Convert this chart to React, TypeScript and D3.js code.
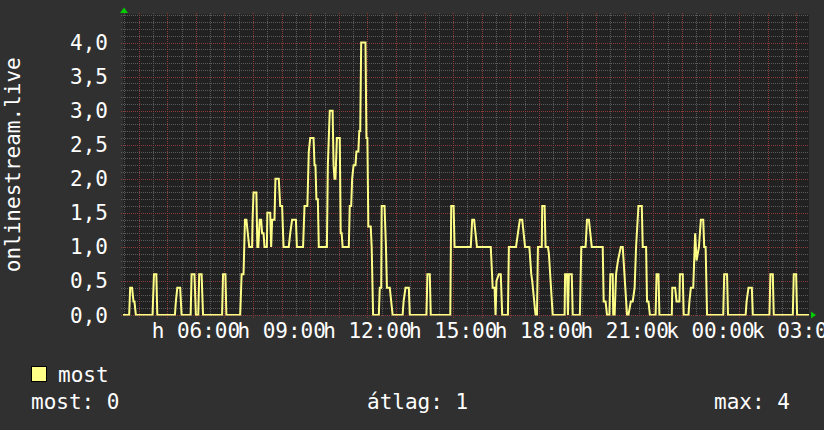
import React from 'react';
import * as d3 from 'd3';

// 24h window, Monday 03:27 -> Tuesday 03:27
const windowStart = new Date(2024, 0, 1, 3, 27);
const windowEnd = new Date(2024, 0, 2, 3, 27);

const sampleTimes: string[] = [
  '03:27', '03:40', '03:42', '03:46', '03:49', '03:51', '03:54', '04:29', '04:32', '04:37',
  '04:39', '05:16', '05:18', '05:21', '05:27', '05:30', '05:49', '05:51', '05:57', '06:00',
  '06:05', '06:07', '06:12', '06:15', '06:55', '06:57', '07:02', '07:04', '07:33', '07:36',
  '07:40', '07:43', '07:46', '07:49', '07:52', '07:58', '07:59', '08:01', '08:07', '08:09',
  '08:11', '08:14', '08:17', '08:19', '08:22', '08:24', '08:29', '08:30', '08:36', '08:38',
  '08:40', '08:45', '08:47', '08:54', '08:57', '09:01', '09:04', '09:15', '09:18', '09:22',
  '09:30', '09:32', '09:45', '09:48', '09:54', '09:57', '10:00', '10:07', '10:09', '10:11',
  '10:13', '10:16', '10:18', '10:35', '10:37', '10:41', '10:47', '10:49', '10:51', '10:53',
  '10:56', '11:02', '11:04', '11:06', '11:08', '11:21', '11:23', '11:26', '11:28', '11:31',
  '11:35', '11:37', '11:41', '11:43', '11:45', '11:47', '11:56', '11:58', '12:00', '12:02',
  '12:07', '12:09', '12:12', '12:24', '12:26', '12:29', '12:30', '12:36', '12:39', '12:41',
  '12:47', '12:50', '12:53', '13:14', '13:16', '13:20', '13:27', '13:29', '14:04', '14:06',
  '14:11', '14:13', '14:54', '14:56', '15:01', '15:03', '15:37', '15:40', '15:44', '15:47',
  '15:50', '16:19', '16:23', '16:27', '16:29', '16:31', '16:36', '16:40', '16:43', '16:55',
  '16:57', '17:12', '17:16', '17:20', '17:25', '17:28', '17:31', '17:40', '17:44', '17:46',
  '17:53', '17:56', '17:58', '18:06', '18:07', '18:12', '18:14', '18:19', '18:21', '18:29',
  '18:54', '18:55', '18:59', '19:01', '19:03', '19:09', '19:11', '19:26', '19:29', '19:38',
  '19:41', '19:45', '19:48', '19:51', '20:14', '20:16', '20:20', '20:23', '20:28', '20:30',
  '20:35', '20:36', '20:39', '20:42', '20:46', '20:52', '20:56', '21:05', '21:08', '21:13',
  '21:17', '21:21', '21:24', '21:29', '21:36', '21:38', '21:45', '21:47', '21:50', '21:53',
  '22:05', '22:07', '22:11', '22:13', '22:39', '22:40', '22:46', '22:49', '22:55', '22:56',
  '23:02', '23:04', '23:14', '23:16', '23:19', '23:24', '23:28', '23:31', '23:36', '23:40',
  '23:45', '23:47', '23:50', '23:53', '00:27', '00:29', '00:35', '00:37', '01:14', '01:16',
  '01:20', '01:27', '01:29', '02:04', '02:06', '02:11', '02:13', '02:53', '02:55', '03:00',
  '03:02', '03:27',
];

const sampleValues: number[] = [
  0, 0, 0.4, 0.4, 0.2, 0.2, 0, 0, 0.6, 0.6,
  0, 0, 0.2, 0.4, 0.4, 0, 0, 0.6, 0.6, 0,
  0, 0.6, 0.6, 0, 0, 0.6, 0.6, 0, 0, 0.6,
  0.6, 1.4, 1.4, 1.2, 1.0, 1.0, 1.4, 1.8, 1.8, 1.0,
  1.0, 1.4, 1.4, 1.2, 1.2, 1.0, 1.0, 1.5, 1.5, 1.0,
  1.4, 1.4, 2.0, 2.0, 1.6, 1.6, 1.0, 1.0, 1.2, 1.4,
  1.4, 1.0, 1.0, 1.6, 1.6, 2.4, 2.6, 2.6, 2.2, 2.2,
  1.7, 1.7, 1.0, 1.0, 2.2, 3.0, 3.0, 2.2, 2.0, 2.0,
  2.6, 2.6, 1.2, 1.2, 1.0, 1.0, 1.6, 1.6, 2.0, 2.2,
  2.2, 2.4, 2.4, 2.7, 2.7, 4.0, 4.0, 2.6, 2.6, 1.3,
  1.3, 1.0, 0, 0, 0.4, 0.4, 1.6, 1.6, 1.0, 0.4,
  0.4, 0.2, 0, 0, 0.2, 0.4, 0.4, 0, 0, 0.6,
  0.6, 0, 0, 1.6, 1.6, 1.0, 1.0, 1.4, 1.4, 1.2,
  1.0, 1.0, 0.4, 0.4, 0, 0.5, 0.6, 0.6, 0, 0,
  1.0, 1.0, 1.2, 1.4, 1.4, 1.2, 1.0, 1.0, 0.6, 0.5,
  0, 0, 1.0, 1.0, 1.6, 1.6, 1.0, 1.0, 0.9, 0,
  0, 0.6, 0.6, 0, 0.6, 0.6, 0, 0, 1.0, 1.0,
  1.4, 1.4, 1.2, 1.0, 1.0, 0.2, 0.2, 0, 0, 0.6,
  0.6, 0, 0, 0.6, 0.8, 1.0, 1.0, 0, 0, 0.2,
  0.2, 0.4, 1.0, 1.6, 1.6, 1.0, 1.0, 0.2, 0.2, 0,
  0, 0.6, 0.6, 0, 0, 0.4, 0.4, 0.2, 0.2, 0.6,
  0.6, 0, 0, 0.2, 0.4, 0.4, 1.2, 0.8, 1.0, 1.4,
  1.4, 1.0, 1.0, 0, 0, 0.6, 0.6, 0, 0, 0.2,
  0.4, 0.4, 0, 0, 0.6, 0.6, 0, 0, 0.6, 0.6,
  0, 0,
];

const yTickValues = [0, 0.5, 1, 1.5, 2, 2.5, 3, 3.5, 4];
const yTickLabels = ['0,0', '0,5', '1,0', '1,5', '2,0', '2,5', '3,0', '3,5', '4,0'];
const xTickTimes = ['06:00', '09:00', '12:00', '15:00', '18:00', '21:00', '00:00', '03:00'];
const xTickLabels = ['h 06:00', 'h 09:00', 'h 12:00', 'h 15:00', 'h 18:00', 'h 21:00', 'k 00:00', 'k 03:00'];
const axisTitle = 'onlinestream.live';
const seriesName = 'most';
const statLabels = ['most: 0', 'átlag: 1', 'max: 4'];

// turn "HH:MM" strings into dates, rolling into the next day when the clock wraps
function toDates(times: string[]): Date[] {
  let dayOffset = 0;
  let prev = -1;
  return times.map(t => {
    const [h, m] = t.split(':').map(Number);
    const mins = h * 60 + m;
    if (mins < prev) dayOffset += 1;
    prev = mins;
    return new Date(2024, 0, 1 + dayOffset, h, m);
  });
}

type Point = { time: Date; value: number };

const W = 824;
const H = 430;
const plot = { left: 123, right: 809, top: 14.5, bottom: 315 };
const FONT = '"DejaVu Sans Mono", monospace';
const LINE_COLOR = '#ffff88';

export default function App() {
  const dates = toDates(sampleTimes);
  const data: Point[] = dates.map((d, i) => ({ time: d, value: sampleValues[i] }));

  const x = d3.scaleTime().domain([windowStart, windowEnd]).range([plot.left, plot.right]);
  const y = d3.scaleLinear().domain([0, 4]).range([plot.bottom, 42.5]);

  const line = d3.line<Point>()
    .x(d => x(d.time))
    .y(d => y(d.value));

  // grid positions
  const halfHours = d3.timeMinute.every(30)!.range(windowStart, windowEnd);
  const hours = d3.timeHour.every(1)!.range(windowStart, windowEnd);
  const minorY = d3.range(0, 45).map(i => i / 10).filter(v => y(v) >= plot.top - 0.5);
  const majorY = yTickValues;

  const tickDates = toDates(['03:27', ...xTickTimes]).slice(1);

  const snap = (v: number) => Math.round(v) + 0.5;

  return (
    <svg width={W} height={H} style={{ position: 'absolute', left: 0, top: 0, background: '#303030' }}>
      <defs>
        <clipPath id="plotClip">
          <rect x={plot.left} y={plot.top} width={plot.right - plot.left} height={plot.bottom - plot.top + 0.5} />
        </clipPath>
      </defs>
      <rect x={0} y={0} width={W} height={H} fill="#303030" />
      <rect x={plot.left} y={plot.top} width={plot.right - plot.left} height={plot.bottom - plot.top} fill="#212121" />

      {/* minor grid */}
      <g stroke="#5a5a5a" strokeWidth={1} strokeDasharray="1,1" shapeRendering="crispEdges">
        {minorY.map((v, i) => (
          <line key={'my' + i} x1={plot.left - 2} x2={plot.right} y1={snap(y(v))} y2={snap(y(v))} />
        ))}
        {halfHours.map((d, i) => (
          <line key={'mx' + i} x1={snap(x(d))} x2={snap(x(d))} y1={plot.top - 2} y2={plot.bottom + 2} />
        ))}
      </g>

      {/* major grid */}
      <g stroke="#8a3a3a" strokeWidth={1} strokeDasharray="1,1" shapeRendering="crispEdges">
        {majorY.map((v, i) => (
          <line key={'My' + i} x1={plot.left - 2} x2={plot.right} y1={snap(y(v))} y2={snap(y(v))} />
        ))}
        {hours.map((d, i) => (
          <line key={'Mx' + i} x1={snap(x(d))} x2={snap(x(d))} y1={plot.top - 2} y2={plot.bottom + 3} />
        ))}
      </g>

      {/* series */}
      <path
        d={line(data) ?? ''}
        fill="none"
        stroke={LINE_COLOR}
        strokeWidth={2}
        strokeLinejoin="miter"
        clipPath="url(#plotClip)"
      />

      {/* arrows */}
      <path d={`M${plot.left - 3},${plot.top - 1.5} L${plot.left + 5},${plot.top - 1.5} L${plot.left + 1},${plot.top - 7} Z`} fill="#00cc00" />
      <path d={`M${plot.right + 2},${plot.bottom - 3.5} L${plot.right + 2},${plot.bottom + 3.5} L${plot.right + 7},${plot.bottom} Z`} fill="#00cc00" />

      {/* y labels */}
      <g fontFamily={FONT} fontSize={21} fill="#ffffff" textAnchor="end">
        {yTickValues.map((v, i) => (
          <text key={'yl' + i} x={108} y={y(v) + 7.5}>{yTickLabels[i]}</text>
        ))}
      </g>

      {/* x labels */}
      <g fontFamily={FONT} fontSize={21} fill="#ffffff" textAnchor="middle">
        {tickDates.map((d, i) => (
          <text key={'xl' + i} x={x(d)} y={338}>{xTickLabels[i]}</text>
        ))}
      </g>

      {/* axis title */}
      <text
        fontFamily={FONT}
        fontSize={21}
        fill="#ffffff"
        textAnchor="middle"
        transform={`translate(20,${(plot.top + plot.bottom) / 2}) rotate(-90)`}
      >
        {axisTitle}
      </text>

      {/* legend */}
      <rect x={31.5} y={366.5} width={15} height={15} fill={LINE_COLOR} stroke="#000000" strokeWidth={1} />
      <g fontFamily={FONT} fontSize={21} fill="#ffffff">
        <text x={58} y={381.5}>{seriesName}</text>
        <text x={31} y={409}>{statLabels[0]}</text>
        <text x={367} y={409}>{statLabels[1]}</text>
        <text x={714} y={409}>{statLabels[2]}</text>
      </g>
    </svg>
  );
}
